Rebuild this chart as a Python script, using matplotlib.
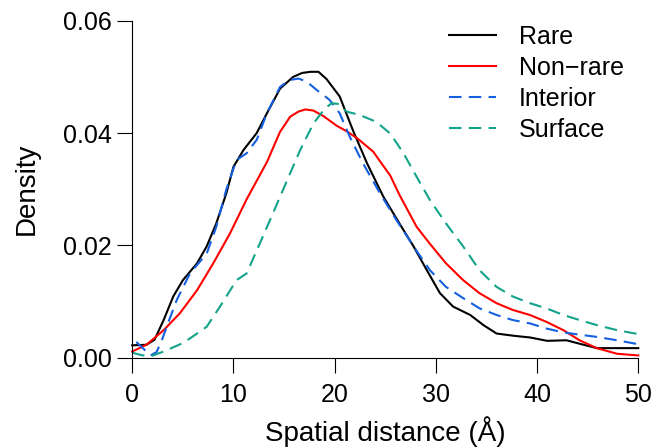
import matplotlib
matplotlib.use("Agg")
from matplotlib import pyplot as plt

plt.rcParams["font.family"] = ["Liberation Sans", "DejaVu Sans"]

# values (x in Angstrom, y density)
rare_x = [0, 1.4, 2.2, 3.1, 4.05, 5.0, 6.4, 7.35, 8.3, 9.3, 10.0, 11.0, 12.3, 13.3, 14.6,
          15.9, 16.8, 17.6, 18.4, 19.2, 20.5, 21.8, 23.2, 24.8, 26.4, 27.8, 29.1, 30.4,
          31.7, 33.4, 34.7, 36.0, 37.7, 39.3, 41.0, 42.9, 44.6, 45.9, 47.5, 50.0]
rare_y = [0.0022, 0.0023, 0.0032, 0.0067, 0.0109, 0.0138, 0.0168, 0.0198, 0.0239, 0.0293,
          0.0340, 0.0370, 0.0400, 0.0435, 0.0479, 0.0500, 0.0507, 0.0509, 0.0509, 0.0496,
          0.0465, 0.0405, 0.0346, 0.0287, 0.0239, 0.0198, 0.0156, 0.0115, 0.0091, 0.0076,
          0.0058, 0.0043, 0.0039, 0.0036, 0.0030, 0.0031, 0.0023, 0.0017, 0.0017, 0.0017]

nonrare_x = [0, 1.4, 3.1, 4.7, 6.4, 8.0, 9.65, 11.3, 13.3, 14.6, 15.6, 16.4, 17.1, 17.9,
             18.9, 20.2, 21.2, 22.2, 23.8, 25.5, 26.4, 28.1, 29.4, 31.0, 32.7, 34.3, 36.0,
             37.6, 39.3, 40.9, 42.6, 44.2, 45.9, 47.9, 50.0]
nonrare_y = [0.0011, 0.0023, 0.0049, 0.0079, 0.0120, 0.0168, 0.0221, 0.0282, 0.0348, 0.0402,
             0.0429, 0.0438, 0.0442, 0.0440, 0.0430, 0.0413, 0.0403, 0.0391, 0.0367, 0.0324,
             0.0290, 0.0233, 0.0203, 0.0168, 0.0138, 0.0115, 0.0097, 0.0085, 0.0076, 0.0064,
             0.0049, 0.0031, 0.0017, 0.0007, 0.0004]

interior_x = [0.4, 1.1, 1.8, 2.4, 2.9, 3.4, 4.4, 5.7, 6.4, 7.35, 8.3, 9.3, 10.3, 11.3, 12.3,
              13.3, 14.6, 15.5, 16.4, 17.2, 18.2, 19.5, 20.5, 21.5, 22.8, 24.5, 26.1, 27.8,
              29.4, 31.0, 32.7, 34.3, 36.0, 37.6, 39.3, 40.9, 42.6, 44.6, 45.9, 47.9, 50.0]
interior_y = [0.0028, 0.0016, 0.0004, 0.0010, 0.0030, 0.0055, 0.0103, 0.0150, 0.0165, 0.0185,
              0.0233, 0.0300, 0.0352, 0.0364, 0.0388, 0.0435, 0.0482, 0.0494, 0.0497, 0.0492,
              0.0477, 0.0459, 0.0435, 0.0393, 0.0346, 0.0292, 0.0245, 0.0198, 0.0156, 0.0126,
              0.0106, 0.0088, 0.0076, 0.0067, 0.0061, 0.0052, 0.0045, 0.0040, 0.0037, 0.0031,
              0.0024]

surface_x = [0, 0.8, 1.75, 3.1, 5.0, 6.0, 7.35, 8.67, 10.3, 11.3, 12.4, 13.9, 14.9, 16.6,
             17.9, 19.0, 19.7, 20.3, 21.2, 22.5, 24.1, 25.5, 26.8, 28.1, 29.4, 31.0, 32.7,
             34.3, 36.0, 37.6, 39.3, 40.9, 42.6, 44.2, 45.9, 47.9, 50.0]
surface_y = [0.0009, 0.0005, 0.0002, 0.0011, 0.0026, 0.0038, 0.0055, 0.0091, 0.0138, 0.0150,
             0.0195, 0.0257, 0.0299, 0.0370, 0.0417, 0.0443, 0.0453, 0.0452, 0.0438, 0.0432,
             0.0420, 0.0399, 0.0364, 0.0322, 0.0281, 0.0239, 0.0198, 0.0156, 0.0126, 0.0109,
             0.0097, 0.0088, 0.0076, 0.0067, 0.0058, 0.0049, 0.0042]

fig = plt.figure(figsize=(6.65, 4.48), dpi=100)
ax = fig.add_axes([0.1989, 0.2016, 0.7609, 0.7522])

lw = 1.5
dash = (0, (6, 3.5))
common = dict(lw=lw, clip_on=False, solid_joinstyle="round", dash_joinstyle="round")
ax.plot(rare_x, rare_y, color="black", label="Rare", **common)
ax.plot(nonrare_x, nonrare_y, color="#ff0000", label="Non\u2212rare", **common)
ax.plot(interior_x, interior_y, color="#1560e0", ls=dash, label="Interior", **common)
ax.plot(surface_x, surface_y, color="#12a38a", ls=dash, label="Surface", **common)

ax.set_xlim(0, 50)
ax.set_ylim(0, 0.06)
ax.set_xticks([0, 10, 20, 30, 40, 50])
ax.set_yticks([0, 0.02, 0.04, 0.06])
ax.set_yticklabels(["0.00", "0.02", "0.04", "0.06"])
for s in ["top", "right"]:
    ax.spines[s].set_visible(False)
for s in ["left", "bottom"]:
    ax.spines[s].set_linewidth(0.8)
ax.tick_params(direction="out", length=11, width=0.8, labelsize=18)
ax.tick_params(axis="y", pad=3.5)
ax.tick_params(axis="x", pad=7)

ax.set_xlabel("Spatial distance (\u00c5)", fontsize=20)
ax.set_ylabel("Density", fontsize=20)
ax.xaxis.set_label_coords(0.5, -0.173)
ax.yaxis.set_label_coords(-0.182, 0.5)

ax.legend(loc="upper left", bbox_to_anchor=(0.606, 1.018), frameon=False, fontsize=18,
          handlelength=1.9, handletextpad=0.9, labelspacing=0.28, borderaxespad=0)

plt.savefig("out.png", dpi=100)
